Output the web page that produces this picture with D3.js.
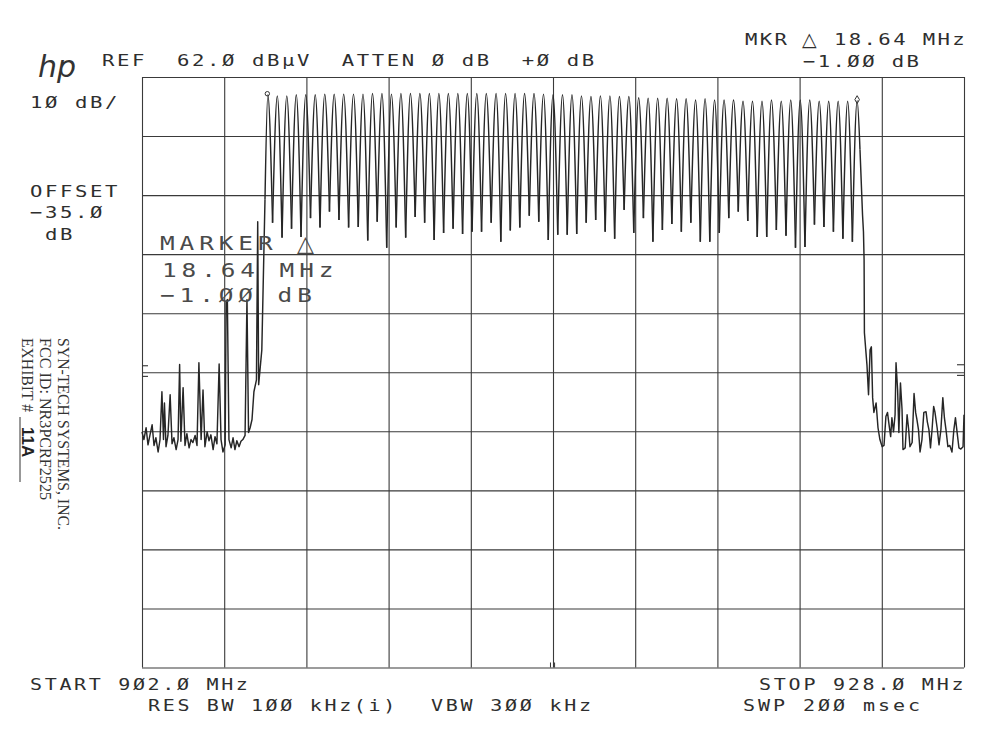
<!DOCTYPE html>
<html>
<head>
<meta charset="utf-8">
<script src="https://cdn.jsdelivr.net/npm/d3@7"></script>
<style>
  body { margin: 0; background: #fff; }
  svg { display: block; }
  text { white-space: pre; }
  .lbl { font-family: "DejaVu Sans Mono", monospace; fill: #2e2e2e; }
  .mkr { font-family: "DejaVu Sans Mono", monospace; fill: #4a4a4a; }
  .tri { font-family: "DejaVu Sans", sans-serif; }
  .stamp { font-family: "Liberation Serif", "Times New Roman", serif; fill: #333; }
  .grid line { stroke: #3a3a3a; stroke-width: 1.1; }
  .trace { fill: none; stroke: #262626; stroke-width: 1.45; stroke-linejoin: round; }
</style>
</head>
<body>
<svg id="chart" width="999" height="750"></svg>
<script>
// sweep 902.0 - 928.0 MHz, ref 62.0 dBuV, 10 dB/div
var freqGridMHz = [902, 904.6, 907.2, 909.8, 912.4, 915, 917.6, 920.2, 922.8, 925.4, 928];
var levelGridDb = [62, 52, 42, 32, 22, 12, 2, -8, -18, -28, -38];

// hopping channels (peak of each channel)
var channelMHz = [
  905.98, 906.28, 906.58, 906.88, 907.18, 907.48, 907.78, 908.08, 908.38, 908.69,
  908.99, 909.29, 909.59, 909.89, 910.19, 910.49, 910.79, 911.09, 911.39, 911.69,
  911.99, 912.29, 912.59, 912.89, 913.20, 913.50, 913.80, 914.10, 914.40, 914.70,
  915.00, 915.30, 915.60, 915.90, 916.20, 916.50, 916.80, 917.10, 917.40, 917.71,
  918.01, 918.31, 918.61, 918.91, 919.21, 919.51, 919.81, 920.11, 920.41, 920.71,
  921.01, 921.31, 921.61, 921.91, 922.22, 922.52, 922.82, 923.12, 923.42, 923.72,
  924.02, 924.32, 924.62
];
var peakDb = [
  59.0, 58.8, 58.8, 59.0, 59.0, 59.0, 59.1, 59.1, 59.1, 59.1, 59.1, 59.2, 59.2, 59.1, 59.2, 59.2, 59.2, 59.2, 59.2, 59.2, 59.2,
  59.2, 59.2, 59.2, 59.2, 59.2, 59.2, 59.2, 59.2, 59.1, 59.0, 59.0, 59.0, 58.8, 58.7, 58.8, 58.8, 58.7, 58.7, 58.5, 58.4, 58.4,
  58.4, 58.3, 58.3, 58.1, 58.3, 58.1, 58.1, 58.1, 57.9, 57.9, 57.9, 58.1, 57.9, 58.1, 58.1, 58.1, 57.9, 57.9, 57.9, 57.9, 58.0
];
// dips between neighbouring channels
var valleyDb = [
  37.3, 34.8, 36.3, 34.9, 38.1, 36.5, 39.2, 37.8, 36.5, 36.6, 34.3, 37.5, 33.1, 36.5, 34.8, 38.3, 37.3, 34.4, 35.6, 36.3,
  35.4, 35.8, 35.8, 37.3, 34.1, 36.0, 36.5, 38.5, 37.5, 34.4, 35.3, 35.3, 35.4, 37.3, 37.8, 35.8, 34.6, 39.5, 35.6, 38.1, 34.1,
  36.1, 37.1, 35.8, 37.3, 34.1, 34.1, 35.6, 38.1, 39.2, 37.6, 34.9, 34.9, 36.1, 35.1, 33.1, 33.2, 37.0, 36.6, 35.8, 34.6, 34.1
];

// [MHz, dBuV] below the band edge
var leftNoise = [
  [902.00, 1.9], [902.06, 0.6], [902.13, 2.6], [902.19, -0.3], [902.25, 1.3], [902.32, 3.1], [902.38, -0.4],
  [902.44, 0.9], [902.51, -1.5], [902.57, 0.6], [902.63, 8.7], [902.68, 0.6], [902.71, 6.8], [902.76, -0.6],
  [902.82, 1.3], [902.89, 8.2], [902.95, -0.1], [903.01, 0.9], [903.08, -1.1], [903.14, 0.6], [903.19, 13.3],
  [903.23, 0.3], [903.30, 9.4], [903.36, -0.4], [903.42, 1.6], [903.49, -0.8], [903.55, 0.6], [903.61, 0.1],
  [903.68, 1.3], [903.74, -0.4], [903.80, 13.6], [903.87, 0.6], [903.93, 9.0], [903.99, -0.6], [904.06, 1.9],
  [904.12, 0.4], [904.18, 1.4], [904.25, -1.1], [904.31, 1.1], [904.37, -0.1], [904.44, 13.4], [904.50, 0.6],
  [904.56, -1.5], [904.63, -0.3], [904.66, 23.8], [904.70, 24.3], [904.75, 0.6], [904.82, -0.8], [904.88, 0.9],
  [904.94, -1.1], [905.00, 0.4], [905.07, -0.6], [905.13, 0.3], [905.19, 0.6], [905.26, 1.3], [905.32, 24.3],
  [905.37, 1.8], [905.42, 2.6], [905.48, 4.0], [905.54, 8.7], [905.62, 10.7], [905.66, 37.5], [905.69, 9.9],
  [905.79, 15.8], [905.89, 41.2]
];
// [MHz, dBuV] above the band edge
var rightNoise = [
  [924.71, 49.7], [924.79, 38.7], [924.82, 35.8], [924.84, 31.0], [924.85, 18.7], [924.93, 13.3], [924.98, 8.2],
  [925.03, 15.8], [925.07, 16.3], [925.11, 7.7], [925.15, 5.2], [925.22, 6.8], [925.28, 2.6], [925.34, 0.6],
  [925.41, -0.6], [925.47, -0.4], [925.53, 4.5], [925.58, 5.2], [925.63, 3.1], [925.68, 1.1], [925.72, 4.3],
  [925.77, 1.9], [925.82, 4.8], [925.85, 13.6], [925.90, 9.0], [925.94, 1.8], [925.99, 10.2], [926.04, 5.7],
  [926.07, -1.1], [926.14, -0.8], [926.20, 4.8], [926.25, 2.3], [926.29, -0.6], [926.36, 0.1], [926.42, 8.4],
  [926.47, 5.2], [926.51, 4.0], [926.56, 2.3], [926.61, -1.5], [926.67, 0.6], [926.73, 5.2], [926.80, 5.3],
  [926.84, 3.6], [926.89, 2.3], [926.94, -0.8], [926.99, 2.3], [927.04, 6.2], [927.08, 5.3], [927.15, 2.6],
  [927.21, -0.3], [927.27, 2.3], [927.33, 7.7], [927.38, 4.3], [927.43, 2.3], [927.49, -0.6], [927.55, -0.4],
  [927.62, -1.5], [927.68, 2.3], [927.73, 4.3], [927.78, 1.9], [927.84, -0.8], [927.90, -1.0], [927.97, -0.6],
  [928.00, 4.8]
];

var edgeMarkDb = [13.1, 11.3];
var centerMarkMHz = [914.92, 915.05];

var margin = {top: 77, right: 35, bottom: 82.5, left: 142};
var width = 999 - margin.left - margin.right,
    height = 750 - margin.top - margin.bottom;

var svg = d3.select("#chart");

var x = d3.scaleLinear().domain([902, 928]).range([margin.left, margin.left + width]);
var y = d3.scaleLinear().domain([-38, 62]).range([margin.top + height, margin.top]);

// graticule
svg.append("g")
    .attr("class", "grid")
    .attr("transform", "translate(0," + (margin.top + height) + ")")
    .call(d3.axisBottom(x).tickValues(freqGridMHz).tickSize(-height).tickFormat(""))
    .call(function(g) { g.select(".domain").remove(); });

svg.append("g")
    .attr("class", "grid")
    .attr("transform", "translate(" + margin.left + ",0)")
    .call(d3.axisLeft(y).tickValues(levelGridDb).tickSize(-width).tickFormat(""))
    .call(function(g) { g.select(".domain").remove(); });

// little marks on the frame
svg.selectAll(".edgeL").data(edgeMarkDb).enter().append("line")
    .attr("x1", x(902)).attr("x2", x(902) + 6)
    .attr("y1", function(d) { return y(d); }).attr("y2", function(d) { return y(d); })
    .attr("stroke", "#333").attr("stroke-width", 1.1);
svg.selectAll(".edgeR").data(edgeMarkDb).enter().append("line")
    .attr("x1", x(928) - 7).attr("x2", x(928))
    .attr("y1", function(d) { return y(d) - 1; }).attr("y2", function(d) { return y(d) - 1; })
    .attr("stroke", "#333").attr("stroke-width", 1.1);
svg.selectAll(".ctr").data(centerMarkMHz).enter().append("line")
    .attr("x1", function(d) { return x(d); }).attr("x2", function(d) { return x(d); })
    .attr("y1", y(-38) - 5).attr("y2", y(-38))
    .attr("stroke", "#333").attr("stroke-width", 1);

// trace
var noiseLine = d3.line()
    .x(function(d) { return x(d[0]); })
    .y(function(d) { return y(d[1]); });

var archLine = d3.line()
    .x(function(d) { return x(d[0]); })
    .y(function(d) { return y(d[1]); })
    .curve(d3.curveMonotoneX);

var last = channelMHz.length - 1;
var arches = channelMHz.map(function(f, i) {
  var lo = i === 0 ? leftNoise[leftNoise.length - 1] : [(channelMHz[i - 1] + f) / 2, valleyDb[i - 1]];
  var hi = i === last ? rightNoise[0] : [(f + channelMHz[i + 1]) / 2, valleyDb[i]];
  return [lo, [f, peakDb[i]], hi];
});

svg.append("path").attr("class", "trace").attr("d", noiseLine(leftNoise));
svg.append("path").attr("class", "trace").attr("d", noiseLine(rightNoise));
svg.selectAll(".arch")
    .data(arches)
  .enter().append("path")
    .attr("class", "trace arch")
    .attr("d", archLine);

// marker symbols on first and last channel
svg.append("circle")
    .attr("cx", x(channelMHz[0]) - 0.5).attr("cy", y(peakDb[0]) - 1).attr("r", 2.2)
    .attr("fill", "none").attr("stroke", "#333").attr("stroke-width", 1);
svg.append("path")
    .attr("transform", "translate(" + x(channelMHz[last]) + "," + (y(peakDb[last]) - 1) + ")")
    .attr("d", d3.symbol().type(d3.symbolDiamond).size(18)())
    .attr("fill", "none").attr("stroke", "#333").attr("stroke-width", 1);

// plotter lettering
function plotText(px, py, str, size, adv, cls) {
  var sx = 1.25;
  return svg.append("text")
      .attr("class", cls || "lbl")
      .attr("transform", "translate(" + px + "," + py + ") scale(" + sx + ",1)")
      .attr("font-size", size)
      .attr("letter-spacing", (adv / sx - 0.602 * size).toFixed(2))
      .text(str);
}
function delta(px, py, size, cls) {
  return svg.append("text")
      .attr("class", (cls || "lbl") + " tri")
      .attr("x", px).attr("y", py)
      .attr("font-size", size)
      .text("\u25B3");
}

plotText(745, 45, "MKR", 16.5, 14.8);
delta(802, 46, 19);
plotText(834, 45, "18.64 MHz", 16.5, 14.8);
plotText(102, 66, "REF  62.\u00D8 dB\u00B5V  ATTEN \u00D8 dB  +\u00D8 dB", 16.5, 15);
plotText(803, 67, "\u22121.\u00D8\u00D8 dB", 16.5, 14.8);
plotText(30, 108, "1\u00D8 dB/", 16.5, 15);
plotText(30, 197, "OFFSET", 16.5, 15);
plotText(30, 218, "\u221235.\u00D8", 16.5, 15);
plotText(45, 240, "dB", 16.5, 15);

plotText(160, 250, "MARKER", 19.5, 19.6, "mkr");
delta(297, 251, 22, "mkr");
plotText(162, 277, "18.64 MHz", 19.5, 19.6, "mkr");
plotText(160, 302, "\u22121.\u00D8\u00D8 dB", 19.5, 19.6, "mkr");

plotText(30, 690, "START 9\u00D82.\u00D8 MHz", 16, 14.7);
plotText(759, 690, "STOP 928.\u00D8 MHz", 16, 14.8);
plotText(148, 711, "RES BW 1\u00D8\u00D8 kHz(i)", 16, 14.7);
plotText(431, 711, "VBW 3\u00D8\u00D8 kHz", 16, 14.8);
plotText(743, 711, "SWP 2\u00D8\u00D8 msec", 16, 15);

svg.append("text")
    .attr("x", 38).attr("y", 77)
    .attr("font-family", "DejaVu Sans, sans-serif")
    .attr("font-style", "italic").attr("font-weight", 200)
    .attr("font-size", 30).attr("fill", "#333")
    .text("hp");

// exhibit stamp along the left margin
var stamp = [
  {t: "SYN-TECH SYSTEMS, INC.", bx: 58, len: 192},
  {t: "FCC ID: NR3PCRF2525", bx: 40, len: 162},
  {t: "EXHIBIT #", bx: 22, len: 74}
];
svg.selectAll(".stamp")
    .data(stamp)
  .enter().append("text")
    .attr("class", "stamp")
    .attr("transform", function(d) { return "translate(" + d.bx + ",338) rotate(90)"; })
    .attr("font-size", 16.5)
    .attr("textLength", function(d) { return d.len; })
    .attr("lengthAdjust", "spacingAndGlyphs")
    .text(function(d) { return d.t; });
svg.append("text")
    .attr("transform", "translate(22,427) rotate(90)")
    .attr("font-family", "Liberation Sans, Arial, sans-serif")
    .attr("font-weight", "bold").attr("font-size", 17).attr("fill", "#222")
    .text("11A");
svg.append("line")
    .attr("x1", 20).attr("x2", 20).attr("y1", 417).attr("y2", 482)
    .attr("stroke", "#333").attr("stroke-width", 1);
</script>
</body>
</html>
